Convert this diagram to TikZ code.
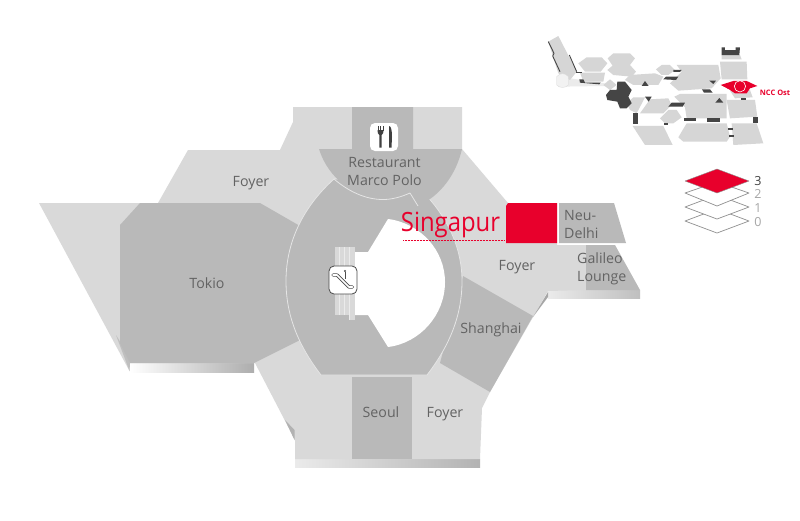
\documentclass[tikz,border=0pt]{standalone}
\usepackage{fontspec}
\setmainfont{Open Sans}
\begin{document}
\begin{tikzpicture}[x=1pt,y=-1pt,line join=round,
  lightarea/.style={fill=roomlight,draw=none},
  darkarea/.style={fill=roomdark,draw=none},
  label/.style={font=\fontsize{14.2}{16}\selectfont,text=labelgray,inner sep=0pt,align=center},
  leftlabel/.style={font=\fontsize{14.2}{16}\selectfont,text=labelgray,inner sep=0pt,anchor=west},
  layer/.style={fill=white,draw=layerline,line width=0.7pt},
  layernum/.style={font=\fontsize{12.5}{14}\selectfont,text=black!35,inner sep=0pt},
  minilight/.style={fill=minigray,draw=none},
  minidark/.style={fill=minidk,draw=none},
  iconbox/.style={rounded corners=5pt}]
\definecolor{roomlight}{HTML}{D9D9D9}
\definecolor{roomdark}{HTML}{B9B9B9}
\definecolor{labelgray}{HTML}{636363}
\definecolor{layerline}{HTML}{8F8F8F}
\definecolor{minigray}{HTML}{D6D6D6}
\definecolor{minidk}{HTML}{454545}
\definecolor{hotred}{HTML}{E8002C}
\useasboundingbox (0,0) rectangle (800,520);
\fill[white] (0,0) rectangle (800,520);
% shadows under the building
\shade[left color=white,right color=black!32] (130,363) rectangle (254,372);
\shade[left color=white!92!black,right color=black!30] (295,459) rectangle (480,467);
\shade[left color=black!8,right color=black!25] (548,290) rectangle (640,298);
% floor
\path[lightarea] (39,203) -- (158,203) -- (188,150) -- (280,150) -- (293,122) -- (293,107)
  -- (462,107) -- (462,149) -- (508,203) -- (557,203) -- (557,245) -- (586,245)
  -- (586,290) -- (548,291) -- (490,392) -- (482,408) -- (480,459) -- (295,459)
  -- (295,440) -- (255,363) -- (130,363) -- (129.5,371) -- cycle;
\fill[black!25] (116,335) -- (121,343) -- (130,363) -- (129.5,371) -- cycle;
\fill[black!30] (285,420) -- (294.5,430) -- (294.5,440) -- cycle;
% rooms
\path[darkarea] (120,225) -- (140,203) -- (260,203) -- (300,226) -- (300,340) -- (254,363)
  -- (130,363) -- (120,343) -- cycle;
\path[darkarea] (463,276) -- (533,316) -- (490,392) -- (440,363) -- cycle;
\fill[black!35] (548,292) -- (548,297) -- (533,317) -- cycle;
\path[darkarea] (352,377) rectangle (412,459);
\path[darkarea] (559,203) -- (614,203) -- (626,243) -- (559,243) -- cycle;
\path[darkarea] (586,245) -- (615,245) -- (640,290) -- (586,290) -- cycle;
% ring
\path[fill=roomdark,draw=black!10,line width=0.8pt] (321,375)
  .. controls (298,345) and (286,315) .. (286,281)
  .. controls (286,240) and (305,205) .. (334,179)
  -- (410,180)
  .. controls (440,205) and (462,240) .. (462,281)
  .. controls (462,315) and (450,345) .. (427,375) -- cycle;
\path[fill=white] (388,219) .. controls (420,223) and (445,250) .. (445,282)
  .. controls (445,315) and (420,343) .. (388,347)
  -- (368,315) -- (355,315) -- (355,252) -- (368,252) -- cycle;
% restaurant
\path[darkarea] (319,149) -- (352,149) -- (352,107) -- (413,107) -- (413,149) -- (462,149)
  .. controls (456,175) and (440,196) .. (418,206) -- (410,193)
  .. controls (401,197) and (392,199) .. (383,199)
  .. controls (355,199) and (328,178) .. (319,149) -- cycle;
\draw[black!10,line width=0.8pt] (334,179) .. controls (348,191) and (365,199.5) .. (383,199.5)
  .. controls (392,199.5) and (401,197) .. (410,193) -- (418,206);
% Singapur
\path[fill=hotred] (508,203) -- (557,203) -- (557,243) -- (506,243) -- (506,206) -- cycle;
\draw[hotred,line width=0.5pt,densely dotted] (403,240) -- (505,240);
\node[inner sep=0pt,text=hotred,anchor=center] (singapur) at (450.5,224.5)
  {\scalebox{0.9}[1]{\fontsize{26.5}{30}\selectfont Singapur}};
% escalator
\fill[black!15] (335,247) rectangle (355,315);
\fill[black!15] (349,315) rectangle (355,320);
\draw[black!8,line width=0.6pt] (339,247) -- (339,315) (344,247) -- (344,315) (349,247) -- (349,320);
\path[fill=white,draw=black!70,line width=0.8pt,iconbox] (329,266) rectangle (357,294);
\draw[black!70,line width=3.2pt,line cap=round] (333,275) -- (337,275) -- (349,287) -- (352.5,287);
\draw[white,line width=1.6pt,line cap=round] (333,275) -- (337,275) -- (349,287) -- (352.5,287);
\draw[black!70,line width=0.8pt] (345,272) -- (345,279);
\fill[black!70] (345,271) circle (1.1pt);
% restaurant icon
\path[fill=white,iconbox] (370,123) rectangle (398,151);
\draw[black!75,line width=0.8pt] (378,126) -- (378,131) (380.5,126) -- (380.5,131) (383,126) -- (383,131);
\fill[black!75] (377.6,130) -- (383.4,130) -- (383.2,133) -- (381.7,135) -- (381.6,147.5) -- (379.4,147.5) -- (379.3,135) -- (377.8,133) -- cycle;
\fill[black!75] (389,126) .. controls (391,126) and (392,130) .. (392,137) -- (391.5,147.5) -- (389,147.5) -- cycle;
% labels
\node[label] (foyerA) at (251,183) {Foyer};
\node[label] (resto) at (384.5,171.5) {Restaurant\\[1.5pt]Marco Polo};
\node[label] (tokio) at (207,283) {Tokio};
\node[label] (foyerB) at (517,267) {Foyer};
\node[label] (shanghai) at (491,330) {Shanghai};
\node[label] (seoul) at (381,412) {Seoul};
\node[label] (foyerC) at (445,414) {Foyer};
\node[leftlabel] (neu) at (564,215) {Neu-};
\node[leftlabel] (delhi) at (564,233.5) {Delhi};
\node[leftlabel] (galileo) at (577,258) {Galileo};
\node[leftlabel] (lounge) at (577,278) {Lounge};
% floor stack
\path[layer] (685,221) -- (717,209) -- (749,221) -- (717,233) -- cycle;
\path[layer] (685,207) -- (717,195) -- (749,207) -- (717,219) -- cycle;
\path[layer] (685,193) -- (717,182) -- (749,193) -- (717,206) -- cycle;
\path[fill=hotred,draw=layerline,line width=0.4pt] (685,181) -- (717,169) -- (749,181) -- (717,193) -- cycle;
\node[layernum,text=black!75] (f3) at (758,181) {3};
\node[layernum] (f2) at (758,194) {2};
\node[layernum] (f1) at (758,208) {1};
\node[layernum] (f0) at (758,222) {0};
% overview map
\begin{scope}[shift={(530,20)},x=0.3333pt,y=-0.3333pt]
\fill[black!8] (85,170) -- (225,190) -- (225,198) -- (85,200) -- cycle;
\path[minilight] (55,65) -- (85,48) -- (140,155) -- (120,180) -- (85,160) -- cycle;
\draw[minidk,line width=0.9pt] (55,65) -- (72,100) -- (68,108) -- (90,155);
\draw[minidk,line width=0.9pt] (118,105) -- (140,155);
\path[fill=black!5,draw=black!15,line width=0.3pt] (80,170) -- (80,195) .. controls (90,205) and (105,205) .. (115,195) -- (115,170) .. controls (105,158) and (90,158) .. (80,170) -- cycle;
\path[minilight] (145,130) -- (170,112) -- (215,112) -- (232,130) -- (212,155) -- (165,155) -- cycle;
\path[minilight] (150,158) -- (225,158) -- (220,185) -- (160,185) -- cycle;
\path[minilight] (233,115) -- (250,100) -- (300,100) -- (315,115) -- (290,148) -- (255,148) -- cycle;
\path[minilight] (232,150) -- (250,135) -- (300,135) -- (318,155) -- (305,170) -- (250,165) -- cycle;
\path[minilight] (220,195) -- (240,178) -- (260,195) -- (240,210) -- cycle;
\path[minilight] (300,165) -- (375,160) -- (400,170) -- (385,195) -- (310,195) -- (285,180) -- cycle;
\path[minilight] (378,148) -- (395,135) -- (420,135) -- (435,150) -- (415,165) -- (395,165) -- cycle;
\path[minilight] (440,135) -- (565,135) -- (572,175) -- (545,205) -- (445,212) -- (420,190) -- (455,155) -- cycle;
\path[minilight] (570,125) -- (650,125) -- (652,178) -- (575,178) -- cycle;
\path[minilight] (433,230) -- (450,222) -- (590,222) -- (590,295) -- (470,295) -- (465,262) -- cycle;
\path[minilight] (590,240) -- (675,240) -- (682,290) -- (600,295) -- cycle;
\path[minilight] (600,212) -- (660,210) -- (668,232) -- (615,235) -- cycle;
\path[minilight] (290,250) -- (310,232) -- (345,232) -- (320,280) -- (300,270) -- cycle;
\path[minilight] (330,280) -- (360,238) -- (415,235) -- (425,255) -- (400,280) -- cycle;
\path[minilight] (390,295) -- (415,270) -- (440,270) -- (455,292) -- (430,310) -- (405,310) -- cycle;
\path[minilight] (308,318) -- (400,318) -- (428,375) -- (345,375) -- cycle;
\path[minilight] (445,352) -- (470,310) -- (590,310) -- (600,350) -- (590,365) -- (460,365) -- cycle;
\path[minilight] (605,310) -- (680,310) -- (700,370) -- (610,375) -- cycle;
\path[minilight] (575,105) -- (630,105) -- (635,118) -- (575,118) -- cycle;
% dark parts
\path[minidark] (575,82) -- (585,82) -- (585,90) -- (617,90) -- (617,82) -- (630,82) -- (628,105) -- (575,105) -- cycle;
\path[minidark] (228,225) -- (240,210) -- (260,210) -- (262,185) -- (285,185) -- (305,210) -- (295,230) -- (305,250) -- (290,265) -- (270,265) -- (262,245) -- (232,240) -- cycle;
\path[minidark] (148,178) -- (160,178) -- (165,188) -- (212,188) -- (208,193) -- (150,188) -- cycle;
\path[minidark] (138,155) -- (155,155) -- (155,160) -- (138,160) -- cycle;
\path[minidark] (335,198) -- (345,183) -- (356,198) -- cycle;
\path[minidark] (345,230) -- (365,230) -- (356,245) -- cycle;
\path[minidark] (400,178) -- (408,170) -- (445,170) -- (438,180) -- cycle;
\path[minidark] (430,150) -- (455,150) -- (450,156) -- (430,156) -- cycle;
\path[minidark] (415,260) -- (425,248) -- (465,248) -- (458,260) -- cycle;
\path[minidark] (310,278) rectangle (323,312);
\path[minidark] (402,308) rectangle (415,315);
\path[minidark] (463,295) rectangle (497,303);
\path[minidark] (530,295) rectangle (570,307);
\path[minidark] (668,292) rectangle (684,310);
\path[minidark] (594,324) rectangle (608,330);
\path[minidark] (597,345) rectangle (611,352);
\path[minidark] (516,208) -- (540,208) -- (548,218) -- (522,218) -- cycle;
\path[minidark] (538,182) -- (558,182) -- (550,192) -- cycle;
\path[minidark] (556,248) -- (568,234) -- (580,248) -- cycle;
\path[minidark] (634,234) rectangle (648,239);
% NCC Ost
\path[fill=hotred] (572,195) -- (610,183) -- (650,183) -- (682,198) -- (660,205) -- (650,220) -- (615,220) -- (600,210) -- cycle;
\draw[white,line width=0.6pt] (630,199) circle (17);
\draw[white,line width=0.5pt] (572,197) -- (600,212);
\end{scope}
\node[inner sep=0pt,text=hotred,font=\fontsize{7.5}{9}\selectfont\bfseries] (ncc) at (775,93) {NCC Ost};
\end{tikzpicture}
\end{document}
